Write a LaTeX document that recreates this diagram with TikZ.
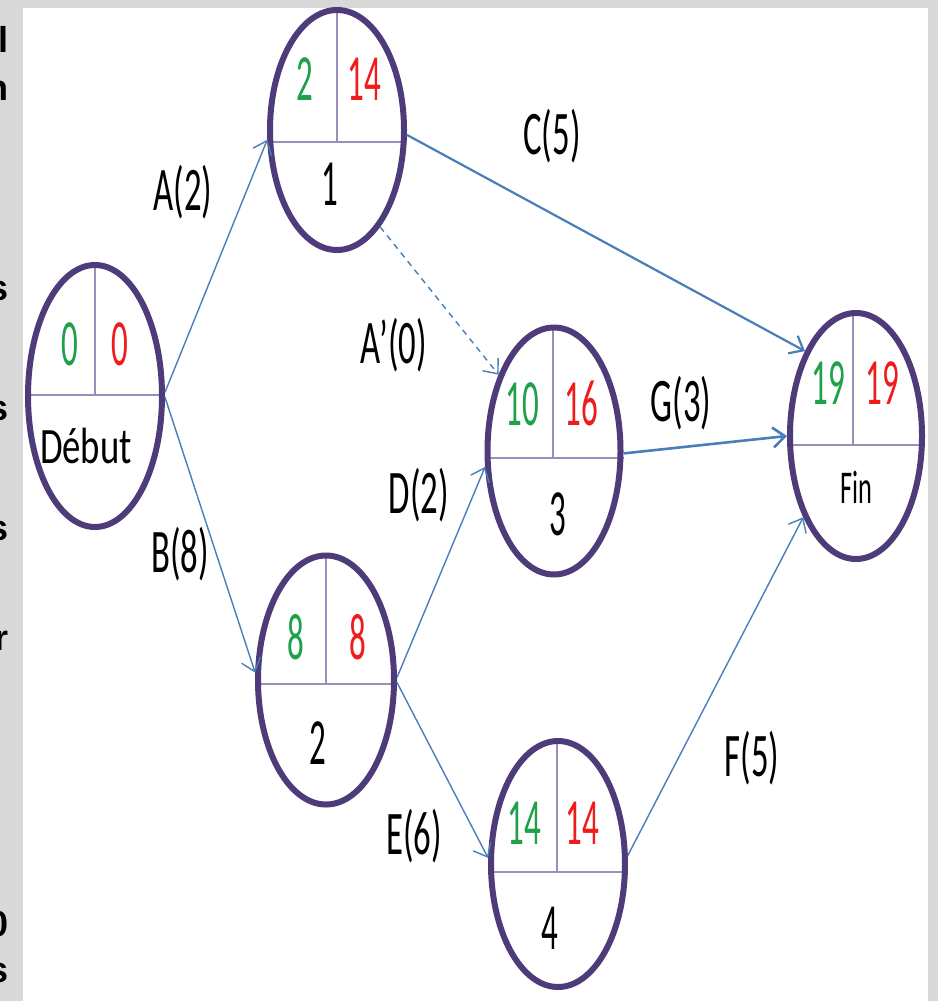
\documentclass[tikz,border=0pt]{standalone}
\usepackage{fontspec}
\usepackage{graphicx}
\usetikzlibrary{shapes.geometric,arrows.meta,backgrounds,calc}
\newfontfamily\calfont{Carlito}
\newfontfamily\arfont{Liberation Sans}
\definecolor{edgeblue}{HTML}{4A7EBB}
\definecolor{ringpurple}{HTML}{4E3B7A}
\definecolor{divpurple}{HTML}{9C8DBB}
\definecolor{esgreen}{HTML}{1FA04A}
\definecolor{lfred}{HTML}{F01C1C}
\definecolor{panelgray}{HTML}{D8D8D8}
\newcommand\sq[3]{\scalebox{#1}[1]{\calfont\fontsize{#2}{#2}\selectfont #3}}
\begin{document}
\begin{tikzpicture}[x=1pt,y=-1pt,
  evt/.style={ellipse, draw=ringpurple, line width=6pt, inner sep=0pt, minimum width=134pt},
  lbl/.style={inner sep=0pt, text height=40pt, text depth=0pt, anchor=center},
  num/.style={inner sep=0pt, text height=42pt, text depth=0pt, anchor=center},
  divl/.style={draw=divpurple, line width=2pt},
  act/.style={draw=edgeblue, line width=1.4pt, -{Straight Barb[length=12pt,width=20pt]}},
  frag/.style={anchor=base east, inner sep=0pt, font=\arfont\bfseries\fontsize{36}{36}\selectfont}
]
\useasboundingbox (0,0) rectangle (938,1001);
\begin{scope}[on background layer]
  \fill[panelgray] (0,0) rectangle (938,1001);
  \fill[white] (23,8) rectangle (928,1001);
\end{scope}
% clipped text fragments on the left strip
\begin{scope}
  \clip (0,0) rectangle (22,1001);
  \node[frag] (f1) at (9,52) {l};
  \node[frag] (f2) at (9,100) {n};
  \node[frag] (f3) at (9,300) {s};
  \node[frag] (f4) at (9,420) {s};
  \node[frag] (f5) at (9,540) {s};
  \node[frag] (f6) at (9,650) {r};
  \node[frag] (f7) at (9,936) {0};
  \node[frag] (f8) at (9,982) {s};
\end{scope}
% events
\node[evt, minimum height=262pt] (deb) at (95,396) {};
\node[evt, minimum height=240pt] (n1) at (337,130) {};
\node[evt, minimum width=136pt, minimum height=249pt] (n2) at (326,680) {};
\node[evt, minimum width=133pt, minimum height=247pt] (n3) at (554,451) {};
\node[evt, minimum height=246pt] (n4) at (558,864) {};
\node[evt, minimum width=132pt, minimum height=246pt] (fin) at (856,436) {};
% dividers
\begin{scope}[on background layer]
  \draw[divl] ($(deb.west)+(0,-1)$) -- ($(deb.east)+(0,-1)$);
  \draw[divl] (deb.north) -- ($(deb.center)+(0,-1)$);
  \draw[divl] ($(n1.west)+(0,12)$) -- ($(n1.east)+(0,12)$);
  \draw[divl] (n1.north) -- ($(n1.center)+(0,12)$);
  \draw[divl] ($(n2.west)+(0,4)$) -- ($(n2.east)+(0,4)$);
  \draw[divl] (n2.north) -- ($(n2.center)+(0,4)$);
  \draw[divl] ($(n3.west)+(0,7)$) -- ($(n3.east)+(0,7)$);
  \draw[divl] ($(n3.north)+(-1,0)$) -- ($(n3.center)+(-1,7)$);
  \draw[divl] ($(n4.west)+(0,8)$) -- ($(n4.east)+(0,8)$);
  \draw[divl] ($(n4.north)+(-1,0)$) -- ($(n4.center)+(-1,8)$);
  \draw[divl] ($(fin.west)+(0,9)$) -- ($(fin.east)+(0,9)$);
  \draw[divl] ($(fin.north)+(-3,0)$) -- ($(fin.center)+(-3,9)$);
\end{scope}
% dates
\node[num, text=esgreen] (deb-e) at (70,344) {\sq{0.5}{66}{0}};
\node[num, text=lfred] (deb-l) at (120,344) {\sq{0.5}{66}{0}};
\node[inner sep=0pt, text height=33pt, text depth=0pt] (deb-t) at (86,447) {\sq{0.72}{51}{Début}};
\node[num, text=esgreen] (n1-e) at (305,79) {\sq{0.5}{66}{2}};
\node[num, text=lfred] (n1-l) at (364,79) {\sq{0.5}{66}{14}};
\node[num] (n1-t) at (330,184) {\sq{0.5}{66}{1}};
\node[num, text=esgreen] (n2-e) at (296,638) {\sq{0.5}{66}{8}};
\node[num, text=lfred] (n2-l) at (358,638) {\sq{0.5}{66}{8}};
\node[num] (n2-t) at (318,743) {\sq{0.5}{66}{2}};
\node[num, text=esgreen] (n3-e) at (522,404) {\sq{0.5}{66}{10}};
\node[num, text=lfred] (n3-l) at (581,404) {\sq{0.5}{66}{16}};
\node[num] (n3-t) at (558,514) {\sq{0.5}{66}{3}};
\node[num, text=esgreen] (n4-e) at (524,823) {\sq{0.5}{66}{14}};
\node[num, text=lfred] (n4-l) at (582,823) {\sq{0.5}{66}{14}};
\node[num] (n4-t) at (550,928) {\sq{0.5}{66}{4}};
\node[num, text=esgreen] (fin-e) at (828,383) {\sq{0.5}{66}{19}};
\node[num, text=lfred] (fin-l) at (882,383) {\sq{0.5}{66}{19}};
\node[inner sep=0pt, text height=30pt, text depth=0pt] (fin-t) at (856,488) {\sq{0.56}{47}{Fin}};
% activities
\draw[act] (deb.3) -- (n1.188);
\draw[act] (deb.-1) -- (n2.174);
\draw[act, line width=2.2pt] (n1.-4) -- (fin.121);
\draw[act, dash pattern=on 6pt off 5pt] (n1.-66) -- (n3.126);
\draw[act] (n2.2) -- (n3.193);
\draw[act] (n2.-2) -- (n4.175);
\draw[act, line width=2.6pt] (n3.-2) -- (fin.180);
\draw[act] (n4.7) -- (fin.237);
% activity labels
\node[lbl] (lA) at (183,190) {\sq{0.56}{62}{A(2)}};
\node[lbl] (lB) at (180,552) {\sq{0.56}{62}{B(8)}};
\node[lbl] (lC) at (552,134) {\sq{0.56}{62}{C(5)}};
\node[lbl] (lA2) at (394,343) {\sq{0.56}{62}{A’(0)}};
\node[lbl] (lD) at (419,493) {\sq{0.56}{62}{D(2)}};
\node[lbl] (lE) at (414,834) {\sq{0.56}{62}{E(6)}};
\node[lbl] (lF) at (752,756) {\sq{0.56}{62}{F(5)}};
\node[lbl] (lG) at (681,401) {\sq{0.56}{62}{G(3)}};
\end{tikzpicture}
\end{document}
